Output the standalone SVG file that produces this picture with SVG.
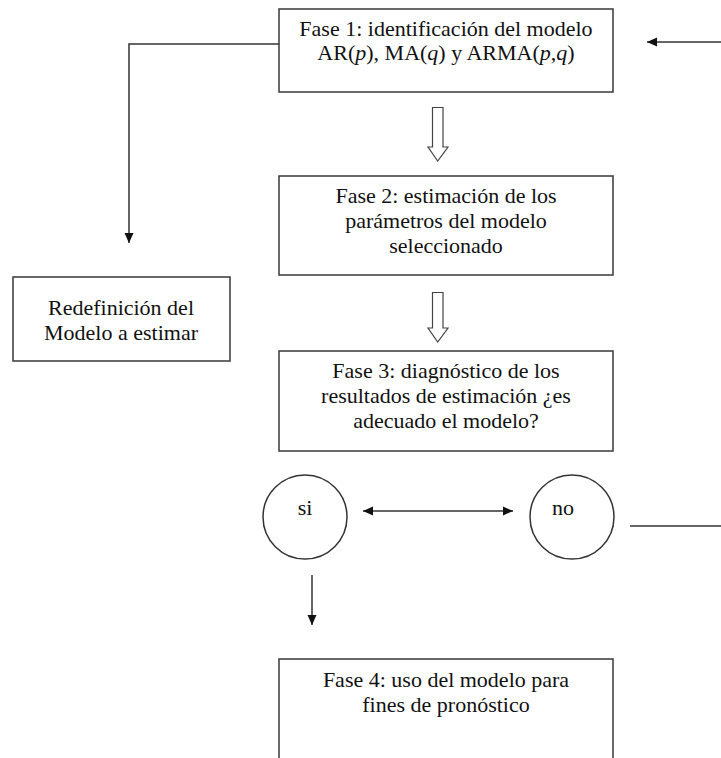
<svg xmlns="http://www.w3.org/2000/svg" width="721" height="758" viewBox="0 0 721 758">
<style>
.box{fill:#fff;stroke:#444;stroke-width:1.6}
.ln{fill:none;stroke:#333;stroke-width:1.5}
.hollow{fill:#fff;stroke:#444;stroke-width:1.2;stroke-linejoin:miter}
text{font-family:"Liberation Serif","Times New Roman",serif;font-size:22px;fill:#111;text-anchor:middle}
</style>
<defs>
<marker id="ah" viewBox="0 0 10 10" refX="10" refY="5" markerWidth="10" markerHeight="10" markerUnits="userSpaceOnUse" orient="auto-start-reverse">
<path d="M0,0.5 L10,5 L0,9.5 Z" fill="#111"/>
</marker>
</defs>
<rect width="721" height="758" fill="#fff"/>
<g id="fase1">
<rect class="box" x="279" y="9" width="334" height="83"/>
<text x="446" y="36">Fase 1: identificación del modelo</text>
<text x="446" y="60">AR(<tspan font-style="italic">p</tspan>), MA(<tspan font-style="italic">q</tspan>) y ARMA(<tspan font-style="italic">p</tspan>,<tspan font-style="italic">q</tspan>)</text>
</g>
<g id="fase2">
<rect class="box" x="279" y="176" width="334" height="99"/>
<text x="446" y="203">Fase 2: estimación de los</text>
<text x="446" y="228">parámetros del modelo</text>
<text x="446" y="253">seleccionado</text>
</g>
<g id="redef">
<rect class="box" x="13" y="277" width="217" height="84"/>
<text x="121" y="315">Redefinición del</text>
<text x="121" y="340">Modelo a estimar</text>
</g>
<g id="fase3">
<rect class="box" x="279" y="351" width="334" height="100"/>
<text x="446" y="378">Fase 3: diagnóstico de los</text>
<text x="446" y="403">resultados de estimación ¿es</text>
<text x="446" y="428">adecuado el modelo?</text>
</g>
<g id="si">
<circle class="ln" cx="305" cy="517" r="42"/>
<text x="305" y="515">si</text>
</g>
<g id="no">
<circle class="ln" cx="572" cy="517" r="42"/>
<text x="563" y="515">no</text>
</g>
<g id="fase4">
<rect class="box" x="279" y="659" width="334" height="104"/>
<text x="446" y="687">Fase 4: uso del modelo para</text>
<text x="446" y="712">fines de pronóstico</text>
</g>
<g id="connectors">
<polyline class="ln" points="279,44 129,44 129,243" marker-end="url(#ah)"/>
<path class="hollow" d="M432.5,107.5 H443 V147 H448 L437.7,161 L428,147 H432.5 Z"/>
<path class="hollow" d="M432.5,292.5 H443 V328 H448 L437.7,342 L428,328 H432.5 Z"/>
<line class="ln" x1="363" y1="511" x2="513" y2="511" marker-start="url(#ah)" marker-end="url(#ah)"/>
<line class="ln" x1="630" y1="526" x2="721" y2="526"/>
<line class="ln" x1="721" y1="42" x2="647" y2="42" marker-end="url(#ah)"/>
<line class="ln" x1="312" y1="575" x2="312" y2="625" marker-end="url(#ah)"/>
</g>
</svg>
